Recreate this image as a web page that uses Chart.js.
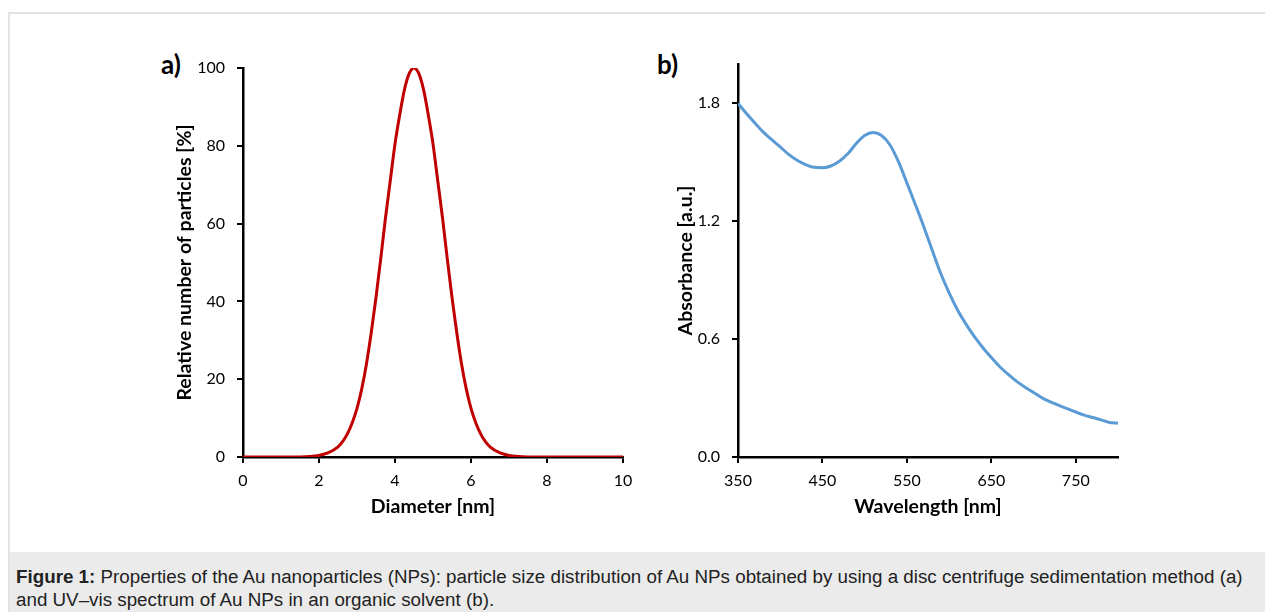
<!DOCTYPE html>
<html>
<head>
<meta charset="utf-8">
<script src="https://cdn.jsdelivr.net/npm/chart.js@4.4.0/dist/chart.umd.min.js"></script>
<style>
  body { margin: 0; width: 1265px; height: 612px; overflow: hidden; background: #fff; position: relative; font-family: Lato, sans-serif; }
  #frame { position: absolute; left: 8px; top: 12px; width: 1270px; height: 620px; border-left: 2px solid #e2e2e2; border-top: 2px solid #e2e2e2; }
  #caption { position: absolute; left: 10px; top: 552px; width: 1255px; height: 60px; background: #ebebeb; box-sizing: border-box; padding: 13px 0 0 6px;
    font-family: "Liberation Sans", Arial, sans-serif; font-size: 18.8px; line-height: 23px; color: #222; white-space: nowrap; }
  .panel { position: absolute; font-weight: bold; font-size: 26px; color: #000; line-height: 26px; }
  .box { position: absolute; }
</style>
</head>
<body>
<div id="frame"></div>
<div class="panel" style="left:161px;top:51px">a)</div>
<div class="panel" style="left:657px;top:51px">b)</div>
<div class="box" style="left:150px;top:40px"><canvas id="sizeChart" width="500" height="490"></canvas></div>
<div class="box" style="left:640px;top:30px"><canvas id="uvChart" width="600" height="500"></canvas></div>
<div id="caption"><b>Figure 1:</b> Properties of the Au nanoparticles (NPs): particle size distribution of Au NPs obtained by using a disc centrifuge sedimentation method (a)<br>and UV–vis spectrum of Au NPs in an organic solvent (b).</div>

<script>
// a) distribucion de tamaño
const diametro = [0, 0.5, 1, 1.5, 1.75, 2, 2.25, 2.5, 2.625, 2.75, 2.875, 3, 3.125, 3.25, 3.375, 3.5, 3.625, 3.75, 3.875, 4,
  4.125, 4.25, 4.375, 4.5, 4.625, 4.75, 4.875, 5, 5.125, 5.25, 5.375, 5.5, 5.625, 5.75, 5.875, 6, 6.125, 6.25, 6.375, 6.5,
  6.75, 7, 7.25, 7.5, 8, 8.5, 9, 9.5, 10];
const particulas = [0, 0, 0, 0.03, 0.12, 0.4, 1.1, 2.6, 4, 6, 8.8, 12.5, 17.5, 24, 32, 41, 51, 61.5, 71, 80.5,
  88, 94.5, 98.6, 100, 98.6, 94.5, 88, 80.5, 71, 61.5, 51, 41, 32, 24, 17.5, 12.5, 8.8, 6, 4, 2.6,
  1.1, 0.4, 0.12, 0.03, 0, 0, 0, 0, 0];
const ticksDiametro = [0, 2, 4, 6, 8, 10];
const ticksParticulas = [0, 20, 40, 60, 80, 100];

// b) espectro UV-vis
const longitudOnda = [350, 360, 370, 380, 390, 400, 410, 420, 430, 440, 450, 460, 470, 480, 490, 500, 510, 520, 530, 540,
  550, 560, 570, 580, 590, 600, 610, 620, 630, 640, 650, 660, 670, 680, 690, 700, 710, 720, 730, 740,
  750, 760, 770, 780, 790, 800];
const absorbancia = [1.80, 1.748, 1.70, 1.653, 1.615, 1.578, 1.54, 1.51, 1.488, 1.474, 1.472, 1.481, 1.505, 1.543, 1.595, 1.636, 1.651, 1.636, 1.588, 1.503,
  1.395, 1.285, 1.172, 1.052, 0.935, 0.835, 0.748, 0.676, 0.612, 0.556, 0.506, 0.459, 0.42, 0.385, 0.355, 0.328, 0.301, 0.281, 0.263, 0.246,
  0.229, 0.213, 0.201, 0.189, 0.176, 0.172];
const ticksOnda = [350, 450, 550, 650, 750];
const ticksAbs = [0, 0.6, 1.2, 1.8];

const fuenteTick = { family: 'Lato', size: 16 };
const fuenteTitulo = { family: 'Lato', size: 19.5, weight: 'bold' };

function fijarAncho(w) {
  return s => { s.width = w; s.paddingLeft = s.paddingRight = s.paddingTop = s.paddingBottom = 0; };
}
function fijarAlto(h) {
  return s => { s.height = h; s.paddingLeft = s.paddingRight = s.paddingTop = s.paddingBottom = 0; };
}
function ejeX(min, max, marcas, titulo, alto) {
  return {
    type: 'linear', min: min, max: max,
    afterBuildTicks: s => { s.ticks = marcas.map(v => ({ value: v })); },
    afterFit: fijarAlto(alto),
    border: { display: true, color: '#000', width: 2.5 },
    grid: { display: true, drawOnChartArea: false, drawTicks: true, tickLength: 6, color: '#000', lineWidth: 2 },
    ticks: { color: '#000', font: fuenteTick, padding: 8, maxRotation: 0, autoSkip: false },
    title: { display: true, text: titulo, color: '#000', font: fuenteTitulo, padding: { top: 0, bottom: 12 } }
  };
}
function ejeY(min, max, marcas, titulo, ancho, padTitulo, fmt) {
  return {
    type: 'linear', min: min, max: max,
    afterBuildTicks: s => { s.ticks = marcas.map(v => ({ value: v })); },
    afterFit: fijarAncho(ancho),
    border: { display: true, color: '#000', width: 2.5 },
    grid: { display: true, drawOnChartArea: false, drawTicks: true, tickLength: 6, color: '#000', lineWidth: 2 },
    ticks: { color: '#000', font: fuenteTick, padding: 12, autoSkip: false, callback: fmt },
    title: { display: true, text: titulo, color: '#000', font: fuenteTitulo, padding: { top: padTitulo, bottom: 0 } }
  };
}
const comunes = {
  responsive: false,
  animation: false,
  plugins: { legend: { display: false }, tooltip: { enabled: false } },
  elements: { point: { radius: 0 } }
};

new Chart(document.getElementById('sizeChart').getContext('2d'), {
  type: 'line',
  data: {
    datasets: [{
      data: diametro.map((d, i) => ({ x: d, y: particulas[i] })),
      borderColor: '#c00000',
      borderWidth: 3,
      fill: false,
      cubicInterpolationMode: 'monotone'
    }]
  },
  options: Object.assign({}, comunes, {
    layout: { padding: { top: 28, right: 27, left: 0, bottom: 0 } },
    scales: {
      x: ejeX(0, 10, ticksDiametro, 'Diameter [nm]', 73),
      y: ejeY(0, 100, ticksParticulas, 'Relative number of particles [%]', 93, 23, v => String(v))
    }
  })
});

new Chart(document.getElementById('uvChart').getContext('2d'), {
  type: 'line',
  data: {
    datasets: [{
      data: longitudOnda.map((l, i) => ({ x: l, y: absorbancia[i] })),
      borderColor: '#5b9bd5',
      borderWidth: 3,
      fill: false,
      cubicInterpolationMode: 'monotone'
    }]
  },
  options: Object.assign({}, comunes, {
    layout: { padding: { top: 34, right: 122, left: 0, bottom: 0 } },
    scales: {
      x: ejeX(350, 800, ticksOnda, 'Wavelength [nm]', 73),
      y: ejeY(0, 2.0, ticksAbs, 'Absorbance [a.u.]', 98, 34, v => v.toFixed(1))
    }
  })
});
</script>
</body>
</html>
